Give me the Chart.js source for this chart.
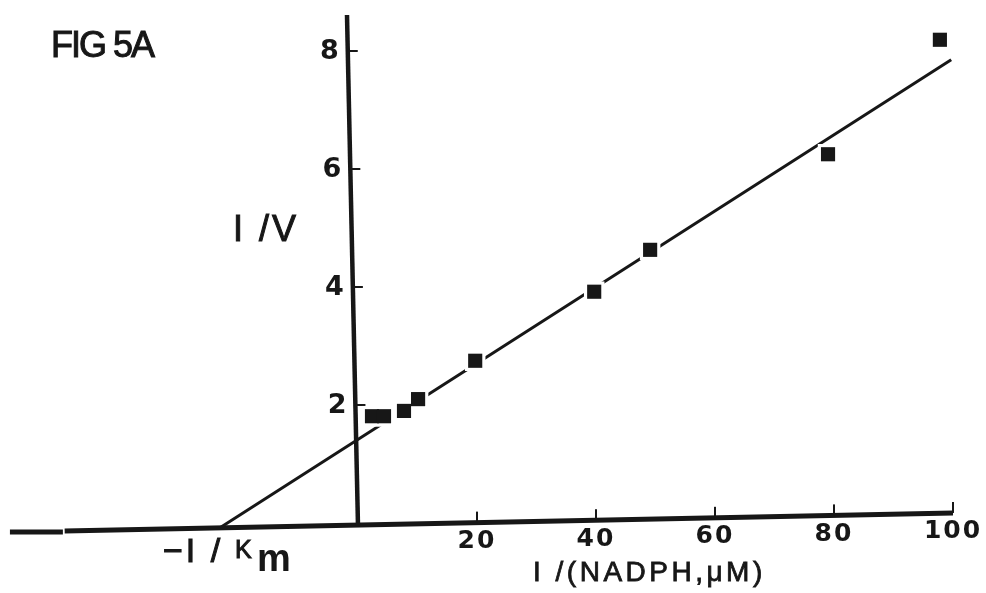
<!DOCTYPE html>
<html>
<head>
<meta charset="utf-8">
<title>FIG 5A</title>
<script src="https://cdn.jsdelivr.net/npm/chart.js@4.4.1/dist/chart.umd.min.js"></script>
<style>
  html, body { margin: 0; padding: 0; background: #fff; }
  canvas { display: block; }
</style>
</head>
<body>
<canvas id="plot" width="986" height="593"></canvas>
<script>
// Lineweaver-Burk plot: 1/V against 1/[NADPH]
const invNadph = [2.35, 4.37, 7.73, 10.1, 19.7, 39.7, 49.1, 79.0, 97.8];
const invRate  = [1.81, 1.81, 1.90, 2.10, 2.75, 3.92, 4.63, 6.25, 8.19];

// ends of the fitted line (starts on the x axis at -1/Km)
const fitX = [-23.2, 99.7];
const fitY = [-0.08, 7.85];

const xTicks = [20, 40, 60, 80, 100];
const yTicks = [2, 4, 6, 8];

const ink = '#171717';

// the hand-drawn axes lean a little
const xAxisLeft = -58.5;
const xAxisBreak = -49.6;
const xAxisEnd = 100;
const baseAt = (v) => -0.034 + 0.00204 * v;
const yAxisTop = 8.61;
const yAxisLean = -1.85;
const axisXAt = (v) => yAxisLean * v / yAxisTop;

const toPoints = (xs, ys) => xs.map((v, i) => ({ x: v, y: ys[i] }));

function drawText(ctx, str, x, y, font, align, spacing, weight) {
    ctx.font = font;
    ctx.textAlign = align;
    ctx.textBaseline = 'middle';
    ctx.letterSpacing = (spacing || 0) + 'px';
    ctx.fillText(str, x, y);
    if (weight) {
        // thicken the thin typewriter-style lettering
        ctx.lineWidth = weight;
        ctx.strokeStyle = ctx.fillStyle;
        ctx.strokeText(str, x, y);
    }
}

const axesPlugin = {
    id: 'axes',
    beforeDatasetsDraw(chart) {
        const ctx = chart.ctx;
        const px = (v) => chart.scales.x.getPixelForValue(v);
        const py = (v) => chart.scales.y.getPixelForValue(v);
        ctx.save();
        ctx.strokeStyle = ink;
        ctx.lineCap = 'butt';

        // x axis
        ctx.lineWidth = 5;
        ctx.beginPath();
        ctx.moveTo(px(xAxisLeft), py(baseAt(xAxisBreak) - 0.018));
        ctx.lineTo(px(xAxisBreak), py(baseAt(xAxisBreak) - 0.018));
        ctx.stroke();
        ctx.beginPath();
        ctx.moveTo(px(xAxisBreak + 0.3), py(baseAt(xAxisBreak)));
        ctx.lineTo(px(xAxisEnd), py(baseAt(xAxisEnd)));
        ctx.stroke();

        // x ticks point up
        ctx.lineWidth = 2;
        xTicks.forEach(t => {
            const b = py(baseAt(t));
            ctx.beginPath();
            ctx.moveTo(px(t), b);
            ctx.lineTo(px(t), b - 11);
            ctx.stroke();
        });

        // y axis
        ctx.lineWidth = 4.5;
        ctx.beginPath();
        ctx.moveTo(px(axisXAt(yAxisTop)), py(yAxisTop));
        ctx.lineTo(px(0), py(baseAt(0)) + 1);
        ctx.stroke();

        ctx.lineWidth = 2;
        yTicks.forEach(t => {
            const a = px(axisXAt(t));
            ctx.beginPath();
            ctx.moveTo(a, py(t));
            ctx.lineTo(a + 10, py(t));
            ctx.stroke();
        });
        ctx.restore();
    },
    afterDatasetsDraw(chart) {
        const ctx = chart.ctx;
        const px = (v) => chart.scales.x.getPixelForValue(v);
        const py = (v) => chart.scales.y.getPixelForValue(v);
        ctx.save();
        ctx.fillStyle = ink;

        yTicks.forEach(t => {
            drawText(ctx, String(t), px(axisXAt(t)) - 9, py(t) + 1, 'bold 27px "DejaVu Sans"', 'right', 0);
        });
        xTicks.forEach(t => {
            drawText(ctx, String(t), px(t), py(baseAt(t)) + 19, 'bold 25px "DejaVu Sans"', 'center', 2);
        });

        drawText(ctx, 'FIG 5A', 51, 47, '36px "Liberation Sans"', 'left', -2, 1);
        drawText(ctx, 'I /V', 233, 231, '36px "Liberation Sans"', 'left', 3, 1);
        drawText(ctx, 'I /(NADPH,μM)', 533, 573, '28px "Liberation Sans"', 'left', 3.5, 0.8);

        // -1/Km
        drawText(ctx, '\u2212I /', 163, 553, '34px "Liberation Sans"', 'left', 3, 1);
        drawText(ctx, 'K', 235, 551, '25px "Liberation Sans"', 'left', 0, 1);
        drawText(ctx, 'm', 257, 561, 'bold 38px "Liberation Sans"', 'left', 0);
        ctx.restore();
    }
};

new Chart(document.getElementById('plot'), {
    type: 'scatter',
    data: {
        datasets: [
            {
                // measured points
                data: toPoints(invNadph, invRate),
                pointStyle: 'rect',
                pointRadius: 10,
                backgroundColor: ink,
                borderWidth: 0
            },
            {
                // white clearance around each point, breaks the fitted line
                data: toPoints(invNadph, invRate),
                pointStyle: 'rect',
                pointRadius: 14.5,
                backgroundColor: '#fff',
                borderWidth: 0
            },
            {
                data: toPoints(fitX, fitY),
                showLine: true,
                borderColor: ink,
                borderWidth: 3,
                pointRadius: 0
            }
        ]
    },
    options: {
        responsive: false,
        animation: false,
        devicePixelRatio: 1,
        layout: { padding: 0, autoPadding: false },
        plugins: { legend: { display: false }, tooltip: { enabled: false } },
        scales: {
            x: { type: 'linear', display: false, min: -60.17, max: 105.55 },
            y: { type: 'linear', display: false, min: -1.186, max: 8.864 }
        }
    },
    plugins: [axesPlugin]
});
</script>
</body>
</html>
